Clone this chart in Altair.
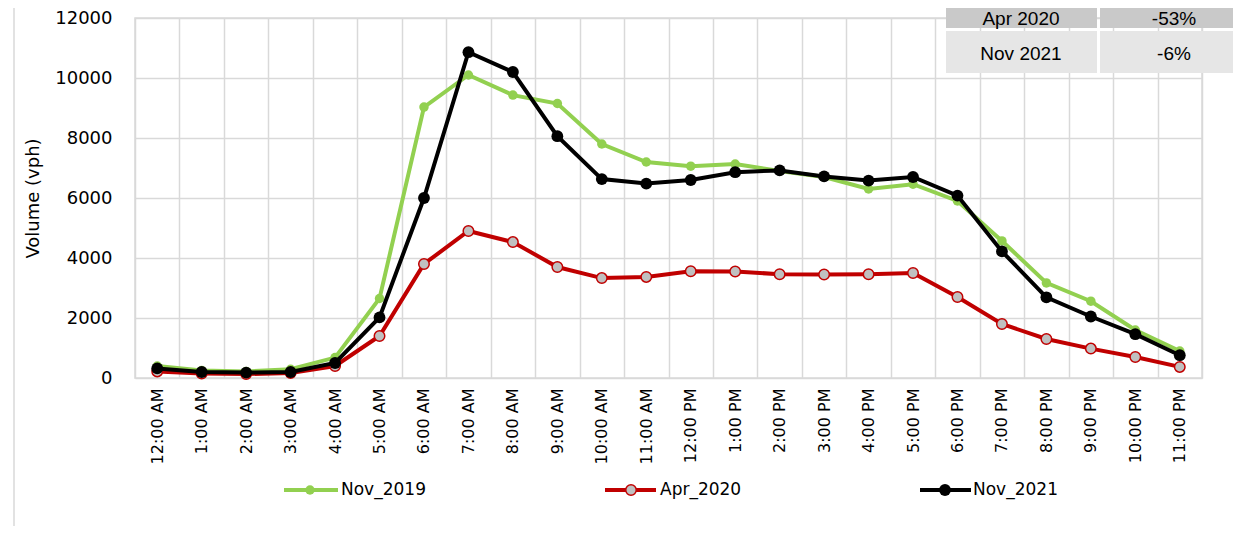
import altair as alt
import pandas as pd

hours = ["12:00 AM", "1:00 AM", "2:00 AM", "3:00 AM", "4:00 AM", "5:00 AM", "6:00 AM",
         "7:00 AM", "8:00 AM", "9:00 AM", "10:00 AM", "11:00 AM", "12:00 PM", "1:00 PM",
         "2:00 PM", "3:00 PM", "4:00 PM", "5:00 PM", "6:00 PM", "7:00 PM", "8:00 PM",
         "9:00 PM", "10:00 PM", "11:00 PM"]
nov_2019 = [400, 250, 220, 290, 680, 2650, 9030, 10100, 9430, 9150, 7800, 7200,
            7060, 7130, 6900, 6700, 6300, 6460, 5900, 4570, 3170, 2560, 1600, 900]
apr_2020 = [220, 150, 130, 170, 400, 1400, 3800, 4900, 4530, 3700, 3330, 3370,
            3560, 3550, 3460, 3450, 3460, 3500, 2700, 1800, 1300, 980, 700, 370]
nov_2021 = [320, 200, 180, 200, 500, 2020, 6000, 10860, 10200, 8060, 6630, 6480,
            6600, 6860, 6920, 6720, 6580, 6700, 6080, 4220, 2690, 2050, 1460, 760]
series_names = ["Nov_2019", "Apr_2020", "Nov_2021"]
table_labels = ["Apr 2020", "Nov 2021"]
table_pcts = ["-53%", "-6%"]

rows = []
for name, vals in zip(series_names, [nov_2019, apr_2020, nov_2021]):
    for h, v in zip(hours, vals):
        rows.append({"hour": h, "volume": v, "series": name})
df = pd.DataFrame(rows)
one = pd.DataFrame({"a": [0]})

FONT = "DejaVu Sans"
GRID = "#d9d9d9"

x_enc = alt.X("hour:N", sort=hours, bandPosition=0.5,
              scale=alt.Scale(type="band", paddingInner=0, paddingOuter=0),
              axis=alt.Axis(title=None, labelAngle=-90, tickBand="extent", grid=True,
                            gridColor=GRID, gridWidth=1.5, ticks=False, domain=False,
                            labelFont=FONT, labelFontSize=16, labelColor="#000000",
                            labelPadding=10))
y_enc = alt.Y("volume:Q",
              scale=alt.Scale(domain=[0, 12000], nice=False),
              axis=alt.Axis(title="Volume (vph)", values=[0, 2000, 4000, 6000, 8000, 10000, 12000],
                            format="d",
                            grid=True, gridColor=GRID, gridWidth=1.5, ticks=False, domain=False,
                            labelFont=FONT, labelFontSize=18, labelColor="#000000",
                            labelPadding=23, titleFont=FONT, titleFontSize=18,
                            titleFontWeight="normal", titleColor="#000000", titlePadding=12))

styles = {
    "Nov_2019": dict(color="#92D050", fill="#92D050", stroke="#92D050", size=90, sw=0),
    "Apr_2020": dict(color="#C00000", fill="#C0C0C0", stroke="#C00000", size=110, sw=1.5),
    "Nov_2021": dict(color="#000000", fill="#000000", stroke="#000000", size=140, sw=0),
}

layers = []
for name in series_names:
    st = styles[name]
    base = alt.Chart(df).transform_filter(alt.datum.series == name)
    layers.append(base.mark_line(color=st["color"], strokeWidth=4).encode(x=x_enc, y=y_enc))
    layers.append(base.mark_point(filled=True, fill=st["fill"], stroke=st["stroke"],
                                  strokeWidth=st["sw"], size=st["size"], opacity=1)
                  .encode(x=x_enc, y=y_enc))

# custom legend
leg_pos = {"Nov_2019": (149, 203, 175, 206), "Apr_2020": (470, 521, 496, 525),
           "Nov_2021": (785, 836, 810, 838)}
LY = 472
for name in series_names:
    st = styles[name]
    x1, x2, xm, xt = leg_pos[name]
    b = alt.Chart(one)
    layers.append(b.mark_rule(color=st["color"], strokeWidth=4).encode(
        x=alt.value(x1), x2=alt.value(x2), y=alt.value(LY)))
    layers.append(b.mark_point(filled=True, fill=st["fill"], stroke=st["stroke"],
                               strokeWidth=st["sw"], size=st["size"], opacity=1).encode(
        x=alt.value(xm), y=alt.value(LY)))
    layers.append(b.mark_text(text=name, align="left", baseline="middle", font=FONT,
                              fontSize=17, color="#000000").encode(
        x=alt.value(xt), y=alt.value(LY)))

# left chart border
layers.append(alt.Chart(one).mark_rule(color=GRID, strokeWidth=1.5).encode(
    x=alt.value(-121), y=alt.value(-20), y2=alt.value(520)))

# summary table overlay (top right)
tb = alt.Chart(one)
cells = [(811, 962, -20, 10, "#c9c9c9"), (965, 1110, -20, 10, "#c9c9c9"),
         (811, 962, 13, 55, "#e6e6e6"), (965, 1110, 13, 55, "#e6e6e6")]
for cx1, cx2, cy1, cy2, col in cells:
    layers.append(tb.mark_rect(color=col).encode(
        x=alt.value(cx1), x2=alt.value(cx2), y=alt.value(cy1), y2=alt.value(cy2)))
for lab, pct, ty in zip(table_labels, table_pcts, [1, 36]):
    layers.append(tb.mark_text(text=lab, align="center", baseline="middle",
                               font="Liberation Sans", fontSize=19, color="#000000").encode(
        x=alt.value(886), y=alt.value(ty)))
    layers.append(tb.mark_text(text=pct, align="center", baseline="middle",
                               font="Liberation Sans", fontSize=19, color="#000000").encode(
        x=alt.value(1039), y=alt.value(ty)))

chart = alt.layer(*layers).properties(
    width=1067, height=360,
    autosize=alt.AutoSizeParams(type="none"),
    padding={"left": 127, "top": 10, "right": 31, "bottom": 148},
    background="#ffffff",
).configure_view(stroke=GRID, strokeWidth=1.5)

chart.save("out.html", embed_options={"renderer": "svg", "actions": False})
